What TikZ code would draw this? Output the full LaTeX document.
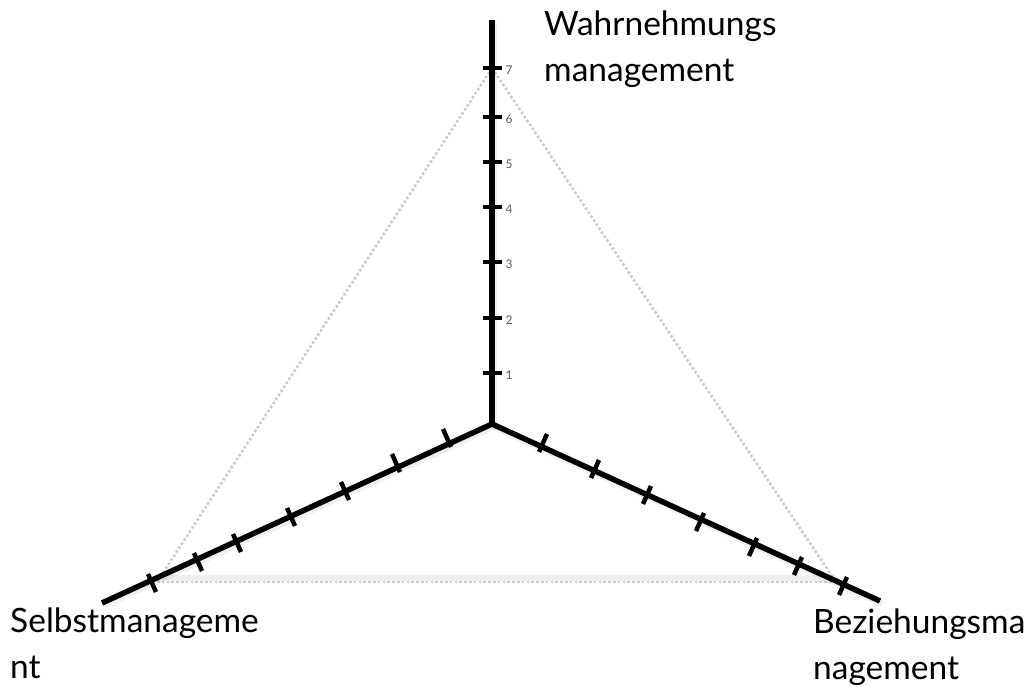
\documentclass[tikz,border=0pt]{standalone}
\usepackage{fontspec}
\setmainfont{Lato}
\begin{document}
\begin{tikzpicture}[x=1pt,y=-1pt,
  axis/.style={line width=5.5pt,black,line cap=butt},
  tick/.style={line width=4.5pt,black},
  guide/.style={line width=2.6pt,color=gray!40,dash pattern=on 2.6pt off 2.2pt},
  shadow/.style={line width=6pt,color=black,opacity=0.06},
  ticklabel/.style={font=\fontsize{12}{12}\selectfont,text=black!65,anchor=west,inner sep=0pt},
  axislabel/.style={font=\fontsize{33.5}{46}\selectfont,align=left,anchor=base west,inner sep=0pt}]
\useasboundingbox (0,0) rectangle (1034,687);
% coordinates
\coordinate (C) at (492,424);
\coordinate (T) at (492,20);
\coordinate (L) at (102,603);
\coordinate (R) at (880,601);
\coordinate (G1) at (492,68);
\coordinate (G2) at (157,582);
\coordinate (G3) at (836,582);
% guide triangle
\draw[shadow] ([yshift=4pt]G2) -- ([yshift=4pt]G3);
\draw[guide] (G2) -- (G3);
\draw[guide] (G1) -- (G2);
\draw[guide] (G1) -- (G3);
% axes shadows
\draw[shadow] ([shift={(2,3)}]C) -- ([shift={(2,3)}]T);
\draw[shadow] ([shift={(2,3)}]C) -- ([shift={(2,3)}]L);
\draw[shadow] ([shift={(2,3)}]C) -- ([shift={(2,3)}]R);
% axes
\draw[axis] (C) -- (T);
\draw[axis] (C) -- (L);
\draw[axis] (C) -- (R);
\fill (C) circle (2.75pt);
% vertical ticks with labels
\foreach \y/\n in {373/1,318/2,262/3,207/4,162/5,117/6,68/7}{
  \draw[tick] (482.5,\y) -- (501.5,\y);
  \node[ticklabel] (v\n) at (505.5,\y+2) {\n};
}
% bottom-left ticks
\foreach \x/\y in {447/438,396/463,345/491,291/517,237/543,198/562,152/583}{
  \draw[tick] ([shift={(-4,-9)}]\x,\y) -- ([shift={(4,9)}]\x,\y);
}
% bottom-right ticks
\foreach \x/\y in {543/443,595/469,647/495,700/522,753/547,798/566,843/586}{
  \draw[tick] ([shift={(4,-9)}]\x,\y) -- ([shift={(-4,9)}]\x,\y);
}
% labels (anchored at the baseline of the last line)
\node[axislabel] (wm) at (544,82) {Wahrnehmungs\\management};
\node[axislabel] (sm) at (10,678) {Selbstmanageme\\nt};
\node[axislabel] (bm) at (813,679) {Beziehungsma\\nagement};
\end{tikzpicture}
\end{document}
